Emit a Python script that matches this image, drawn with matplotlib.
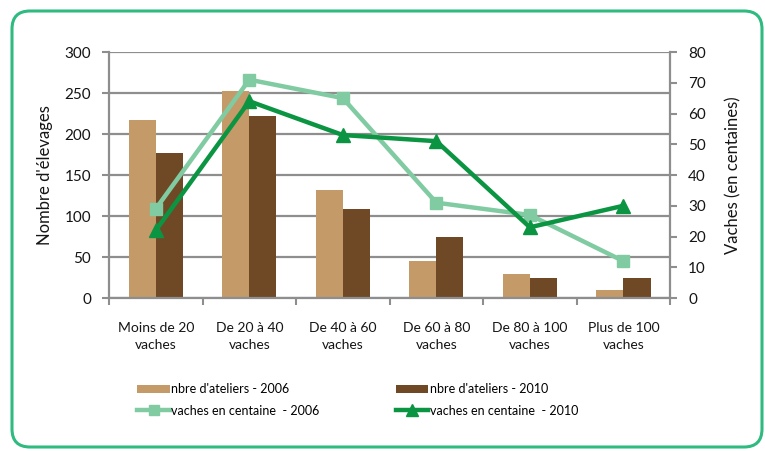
import matplotlib.pyplot as plt
from matplotlib.patches import FancyBboxPatch
import numpy as np

plt.rcParams['font.family'] = ['Lato', 'DejaVu Sans']

categories = ["Moins de 20\nvaches", "De 20 à 40\nvaches", "De 40 à 60\nvaches",
              "De 60 à 80\nvaches", "De 80 à 100\nvaches", "Plus de 100\nvaches"]
ateliers_2006 = [217, 252, 132, 45, 29, 10]
ateliers_2010 = [177, 222, 108, 75, 25, 25]
vaches_2006 = [29, 71, 65, 31, 27, 12]
vaches_2010 = [22, 64, 53, 51, 23, 30]

c_bar06 = "#c49a68"
c_bar10 = "#6f4926"
c_line06 = "#80cba2"
c_line10 = "#0b9442"
c_grid = "#8e8e8e"
txt = "#151515"

fig = plt.figure(figsize=(7.65, 4.51), dpi=100)

# rounded green frame around everything
frame = FancyBboxPatch((12, 4), 750, 436, boxstyle="round,pad=0,rounding_size=18",
                       transform=None, facecolor="white", edgecolor="#2fba80",
                       linewidth=2.2, zorder=-10)
fig.patches.append(frame)

ax = fig.add_axes([0.1425, 0.3392, 0.7335, 0.5455])
ax.patch.set_alpha(0)
x = np.arange(len(categories))
w = 0.29
b1 = ax.bar(x - w / 2, ateliers_2006, w, color=c_bar06, zorder=2)
b2 = ax.bar(x + w / 2, ateliers_2010, w, color=c_bar10, zorder=2)

ax.set_xlim(-0.5, len(categories) - 0.5)
ax.set_ylim(0, 300)
ax.set_yticks(range(0, 301, 50))
ax.yaxis.grid(True, color=c_grid, linewidth=1.6, zorder=0)
ax.set_axisbelow(True)
ax.set_xticks(np.arange(-0.5, len(categories), 1.0))
ax.set_xticklabels([])
ax.set_xticks(x, minor=True)
ax.set_xticklabels(categories, minor=True, fontsize=10, color=txt, linespacing=1.55)
ax.tick_params(axis="x", which="minor", length=0, pad=17)
ax.tick_params(axis="x", which="major", length=5, width=1.5, color=c_grid)
ax.tick_params(axis="y", length=5, width=1.5, color=c_grid, labelsize=11, labelcolor=txt, pad=8)
for s in ["top", "right"]:
    ax.spines[s].set_visible(False)
for s in ["left", "bottom"]:
    ax.spines[s].set_color(c_grid)
    ax.spines[s].set_linewidth(1.6)
ax.set_ylabel("Nombre d'élevages", fontsize=12, color=txt, labelpad=8)

ax2 = ax.twinx()
l1, = ax2.plot(x, vaches_2006, color=c_line06, linewidth=3.2, marker="s", markersize=9, zorder=3)
l2, = ax2.plot(x, vaches_2010, color=c_line10, linewidth=3.2, marker="^", markersize=10, zorder=4)
ax2.set_ylim(0, 80)
ax2.set_yticks(range(0, 81, 10))
ax2.tick_params(axis="y", length=5, width=1.5, color=c_grid, labelsize=11, labelcolor=txt, pad=8)
for s in ["top", "left", "bottom"]:
    ax2.spines[s].set_visible(False)
ax2.spines["right"].set_color(c_grid)
ax2.spines["right"].set_linewidth(1.6)
ax2.set_ylabel("Vaches (en centaines)", fontsize=12, color=txt, labelpad=14)

fig.legend([b1, l1, b2, l2],
           ["nbre d'ateliers - 2006", "vaches en centaine  - 2006",
            "nbre d'ateliers - 2010", "vaches en centaine  - 2010"],
           ncol=2, loc="upper left", bbox_to_anchor=(0.165, 0.175), frameon=False,
           handlelength=2.6, handletextpad=0.1, columnspacing=6.1,
           labelspacing=0.75, markerscale=0.8, prop={'size': 9})

fig.savefig("out.png", dpi=100)
